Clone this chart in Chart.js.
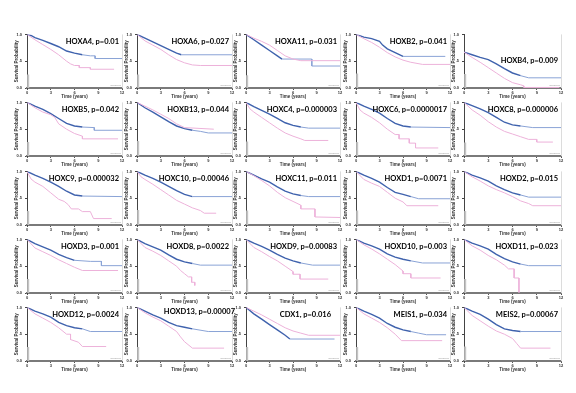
<!DOCTYPE html>
<html>
<head>
<meta charset="utf-8">
<script src="https://cdn.jsdelivr.net/npm/chart.js@4.4.1/dist/chart.umd.min.js"></script>
<style>
  html, body { margin: 0; padding: 0; background: #fff; }
  #wrap { position: relative; width: 576px; height: 393px; overflow: hidden; }
  #wrap canvas { position: absolute; }
</style>
</head>
<body>
<div id="wrap"></div>
<script>
// genes and log-rank p values, in reading order (5 x 5)
const genes = ['HOXA4', 'HOXA6', 'HOXA11', 'HOXB2', 'HOXB4',
  'HOXB5', 'HOXB13', 'HOXC4', 'HOXC6', 'HOXC8',
  'HOXC9', 'HOXC10', 'HOXC11', 'HOXD1', 'HOXD2',
  'HOXD3', 'HOXD8', 'HOXD9', 'HOXD10', 'HOXD11',
  'HOXD12', 'HOXD13', 'CDX1', 'MEIS1', 'MEIS2'];
const pValues = ['0.01', '0.027', '0.031', '0.041', '0.009',
  '0.042', '0.044', '0.000003', '0.0000017', '0.000006',
  '0.000032', '0.00046', '0.011', '0.0071', '0.015',
  '0.001', '0.0022', '0.00083', '0.003', '0.023',
  '0.0024', '0.00007', '0.016', '0.034', '0.00067'];

// blue curve (low expression group), [years, survival]
const blueCurves = [
  [[0,1],[0.5,0.98],[1,0.94],[2,0.89],[3,0.83],[4,0.77],[5,0.69],[6,0.65],[7,0.62],[8,0.6],[8.6,0.6],[8.6,0.55],[12,0.55]],
  [[0,1],[1,0.93],[2,0.86],[3,0.79],[4,0.72],[5,0.65],[5.6,0.62],[12,0.62]],
  [[0,1],[1,0.9],[2,0.8],[3,0.7],[4,0.6],[4.6,0.54],[8.4,0.54],[8.4,0.41],[12,0.41]],
  [[0,1],[1,0.95],[2,0.92],[3,0.87],[3.4,0.8],[4,0.73],[5,0.66],[6,0.59],[11.4,0.59]],
  [[0,0.67],[1,0.62],[2,0.57],[3,0.53],[4,0.45],[5,0.36],[6,0.28],[7,0.23],[8,0.19],[12,0.19]],
  [[0,1],[1,0.93],[2,0.87],[3,0.79],[4,0.7],[5,0.61],[6,0.56],[7,0.54],[8.5,0.53],[8.5,0.48],[12,0.48]],
  [[0,1],[1,0.9],[2,0.82],[3,0.73],[4,0.64],[5,0.56],[6,0.51],[7,0.48],[8,0.46],[9,0.43],[12,0.43]],
  [[0,1],[1,0.92],[2,0.85],[3,0.78],[4,0.7],[5,0.62],[6,0.57],[7,0.54],[8,0.52],[12,0.52]],
  [[0,1],[1,0.93],[2,0.87],[3,0.8],[4,0.7],[5,0.61],[6,0.56],[7,0.54],[12,0.53]],
  [[0,1],[1,0.94],[2,0.88],[3,0.81],[4,0.72],[5,0.63],[6,0.58],[7,0.56],[8.5,0.53],[12,0.53]],
  [[0,1],[1,0.93],[2,0.87],[3,0.8],[4,0.72],[5,0.63],[6,0.56],[7,0.54],[12,0.53]],
  [[0,1],[1,0.93],[2,0.87],[3,0.8],[4,0.72],[5,0.64],[6,0.57],[7,0.53],[12,0.53]],
  [[0,1],[1,0.93],[2,0.86],[3,0.8],[4,0.71],[5,0.63],[6,0.58],[7,0.55],[8,0.53],[12,0.53]],
  [[0,1],[1,0.93],[2,0.87],[3,0.8],[4,0.7],[5,0.61],[6,0.57],[7,0.53],[8,0.49],[12,0.49]],
  [[0,1],[1,0.93],[2,0.88],[3,0.82],[4,0.73],[5,0.66],[6,0.6],[7,0.56],[8,0.52],[12,0.52]],
  [[0,1],[1,0.92],[2,0.86],[3,0.8],[4,0.72],[5,0.66],[6,0.61],[8,0.59],[9.4,0.59],[9.4,0.51],[12,0.51]],
  [[0,1],[1,0.92],[2,0.86],[3,0.8],[4,0.71],[5,0.63],[6,0.58],[7,0.55],[8,0.52],[12,0.52]],
  [[0,1],[1,0.93],[2,0.87],[3,0.8],[4,0.72],[5,0.65],[6,0.6],[7,0.56],[8.5,0.52],[12,0.52]],
  [[0,1],[1,0.93],[2,0.88],[3,0.82],[4,0.73],[5,0.67],[6,0.63],[7,0.6],[8.5,0.56],[12,0.56]],
  [[0,1],[1,0.93],[2,0.88],[3,0.82],[4,0.72],[5,0.64],[6,0.58],[7,0.54],[8,0.51],[12,0.51]],
  [[0,1],[1,0.93],[2,0.88],[3,0.82],[4,0.72],[5,0.66],[6,0.62],[7,0.6],[8,0.55],[12,0.55]],
  [[0,1],[1,0.93],[2,0.86],[3,0.8],[4,0.72],[5,0.66],[6,0.63],[7,0.6],[9,0.55],[12,0.55]],
  [[0,1],[1,0.88],[2,0.78],[3,0.68],[4,0.58],[5,0.48],[5.6,0.41],[11.3,0.41]],
  [[0,1],[1,0.93],[2,0.87],[3,0.8],[4,0.7],[5,0.63],[6,0.58],[7,0.55],[8,0.52],[9,0.49],[11.5,0.49]],
  [[0,1],[1,0.93],[2,0.87],[3,0.78],[4,0.68],[5,0.6],[6,0.57],[7,0.55],[12,0.55]]
];

// pink curve (high expression group), [years, survival]
const pinkCurves = [
  [[0,1],[1,0.9],[2,0.81],[3,0.72],[4,0.62],[5,0.5],[5.5,0.45],[6,0.42],[6.6,0.42],[6.6,0.38],[8,0.38],[8,0.35],[11,0.35]],
  [[0,1],[1,0.88],[2,0.8],[3,0.72],[4,0.62],[5,0.53],[6,0.47],[7,0.43],[8,0.42],[12,0.42]],
  [[0,1],[1,0.93],[2,0.87],[3,0.8],[4,0.7],[5,0.6],[6,0.54],[7,0.51],[12,0.51]],
  [[0,1],[1,0.92],[2,0.85],[3,0.76],[4,0.66],[5,0.58],[6,0.52],[7,0.48],[8.5,0.44],[12,0.44]],
  [[0,0.67],[1,0.57],[2,0.48],[3,0.38],[4,0.28],[5,0.18],[6,0.1],[7,0.06],[7.4,0.04],[7.4,0.01],[11.8,0.01]],
  [[0,1],[1,0.9],[2,0.82],[3,0.77],[3.5,0.72],[4,0.6],[5,0.5],[6,0.42],[7,0.37],[7,0.32],[11.5,0.32]],
  [[0,1],[1,0.93],[2,0.86],[3,0.78],[4,0.7],[5,0.6],[6,0.53],[9.7,0.5]],
  [[0,1],[0.5,0.88],[1,0.82],[2,0.72],[3,0.62],[4,0.52],[5,0.43],[6,0.37],[7,0.32],[7.5,0.29],[10.5,0.29]],
  [[0,1],[0.5,0.86],[1,0.8],[2,0.72],[3,0.62],[4,0.5],[5,0.4],[5.5,0.4],[5.5,0.32],[6.8,0.32],[6.8,0.24],[7.6,0.24],[7.6,0.15],[10.5,0.15]],
  [[0,1],[1,0.86],[2,0.76],[3,0.64],[4,0.54],[5,0.46],[6,0.41],[7,0.36],[8,0.31],[9,0.31],[9,0.26],[11,0.26]],
  [[0,1],[0.5,0.86],[1,0.8],[2,0.72],[3,0.6],[4,0.48],[4.7,0.44],[5.2,0.38],[5.6,0.3],[6.5,0.3],[7,0.25],[8,0.25],[8.4,0.12],[10.7,0.12]],
  [[0,1],[0.5,0.9],[1,0.85],[2,0.76],[3,0.66],[4,0.56],[5,0.46],[6,0.39],[7,0.32],[8,0.27],[8.5,0.22],[10,0.22]],
  [[0,1],[1,0.92],[2,0.83],[3,0.73],[4,0.61],[5,0.51],[6,0.44],[7,0.37],[7,0.3],[8.8,0.3],[8.8,0.15],[12,0.14]],
  [[0,1],[1,0.85],[2,0.78],[3,0.72],[4,0.61],[5,0.5],[6,0.43],[6.5,0.36],[10.5,0.36]],
  [[0,1],[1,0.9],[2,0.82],[3,0.73],[4,0.66],[5,0.6],[6,0.53],[7,0.45],[8,0.4],[8.5,0.36],[12,0.36]],
  [[0,1],[1,0.84],[2,0.77],[3,0.7],[4,0.62],[5,0.55],[6,0.48],[7,0.42],[11.5,0.42]],
  [[0,1],[1,0.85],[2,0.78],[3,0.7],[4,0.6],[5,0.5],[5.5,0.42],[6,0.36],[6.5,0.3],[6.9,0.3],[6.9,0.2],[7.3,0.2],[7.3,0.14]],
  [[0,1],[1,0.85],[2,0.77],[3,0.68],[4,0.6],[5,0.5],[6,0.4],[6,0.35],[6.9,0.35],[6.9,0.26],[10.5,0.26]],
  [[0,1],[1,0.9],[2,0.82],[3,0.73],[4,0.63],[5,0.53],[6,0.41],[6,0.36],[7,0.36],[7,0.28],[10.8,0.28]],
  [[0,1],[1,0.88],[2,0.8],[3,0.7],[4,0.62],[5,0.52],[5.5,0.45],[6.2,0.45],[6.2,0.28],[6.8,0.28],[6.8,0.01]],
  [[0,1],[1,0.88],[2,0.8],[3,0.72],[4,0.62],[5,0.5],[5.5,0.5],[5.5,0.4],[6.5,0.35],[7,0.27],[10,0.27]],
  [[0,1],[1,0.9],[2,0.82],[3,0.75],[4,0.65],[5,0.55],[5.5,0.45],[6,0.36],[7,0.24],[11,0.24]],
  [[0,1],[1,0.93],[2,0.86],[3,0.78],[4,0.7],[5,0.62],[6,0.56],[7,0.52],[8,0.48],[12,0.48]],
  [[0,1],[1,0.88],[2,0.8],[3,0.72],[4,0.62],[5,0.5],[5.8,0.38],[11,0.38]],
  [[0,1],[1,0.85],[2,0.75],[3,0.65],[4,0.56],[5,0.5],[6,0.42],[6.5,0.33],[7,0.24],[10.7,0.24]]
];

// grey censoring bar at the origin of each panel
const censorBars = [0.25, 0.25, 0.24, 0.27, 0.26,
  0.26, 0.28, 0.27, 0.26, 0.25,
  0.26, 0.28, 0.27, 0.27, 0.26,
  0.26, 0.26, 0.26, 0.26, 0.26,
  0.26, 0.26, 0.26, 0.26, 0.27];

const xTickLabels = ['0', '3', '6', '9', '12'];
const yTickLabels = ['0.0', '.5', '1.0'];

// layout of the grid
const colAxisX = [27, 137, 246, 356, 464];
const colPlotW = [95, 95, 94, 94, 97];
const rowTop = [33, 101, 170, 238, 306];
const plotH = 55;
const titleShift = { HOXB4: [0, 19], HOXD13: [6, -3], CDX1: [-6, 0] };

const FONT = '"Liberation Sans", Arial, sans-serif';

const panelDecor = {
  id: 'panelDecor',
  afterDatasetsDraw(chart, args, opts) {
    const { ctx, chartArea: a } = chart;
    ctx.save();
    // faint right frame
    ctx.strokeStyle = '#dcdcdc';
    ctx.lineWidth = 1;
    ctx.beginPath();
    ctx.moveTo(a.right + 0.5, a.top);
    ctx.lineTo(a.right + 0.5, a.bottom);
    ctx.stroke();
    // tiny legend box text
    ctx.fillStyle = '#9a9a9a';
    ctx.font = '2.5px ' + FONT;
    ctx.textAlign = 'right';
    ctx.fillText('Censored', a.right - 1, a.bottom - 2);
    // gene title
    const sh = opts.shift || [0, 0];
    ctx.fillStyle = '#000';
    ctx.font = 'bold 7.5px Lato, ' + FONT;
    ctx.textBaseline = 'middle';
    ctx.fillText(opts.label, a.right - 3 + sh[0], a.top + 7 + sh[1]);
    ctx.restore();
  }
};

const wrap = document.getElementById('wrap');

genes.forEach(function (gene, i) {
  const r = Math.floor(i / 5), c = i % 5;
  const cv = document.createElement('canvas');
  const w = 27 + colPlotW[c] + 8, h = 4 + plotH + 11;
  cv.width = w; cv.height = h;
  cv.style.left = (colAxisX[c] - 27) + 'px';
  cv.style.top = (rowTop[r] - 4) + 'px';
  cv.style.width = w + 'px'; cv.style.height = h + 'px';
  wrap.appendChild(cv);

  new Chart(cv, {
    type: 'line',
    data: {
      datasets: [{
        data: pinkCurves[i].map(p => ({ x: p[0], y: p[1] })),
        borderColor: '#edb2da',
        borderWidth: 1,
        pointRadius: 0
      }, {
        data: blueCurves[i].map(p => ({ x: p[0], y: p[1] })),
        borderColor: '#3f62ad',
        borderWidth: 1.3,
        pointRadius: 0,
        segment: {
          borderColor: s => s.p1.parsed.x > 7 ? '#8aa3d6' : '#3f62ad',
          borderWidth: s => s.p1.parsed.x > 7 ? 1 : 1.4
        }
      }, {
        data: [{ x: 0.15, y: 0 }, { x: 0.15, y: censorBars[i] }],
        borderColor: '#c4c4c4',
        borderWidth: 2,
        pointRadius: 0
      }]
    },
    options: {
      responsive: false,
      animation: false,
      devicePixelRatio: 1,
      layout: { padding: { top: 4, right: 8, left: 0, bottom: 0 } },
      plugins: {
        legend: { display: false },
        tooltip: { enabled: false },
        panelDecor: { label: gene + ', p=' + pValues[i], shift: titleShift[gene] }
      },
      scales: {
        x: {
          type: 'linear', min: 0, max: 12,
          afterFit: s => { s.height = 11; },
          ticks: {
            stepSize: 3, autoSkip: false, maxRotation: 0, padding: 0,
            color: '#333', font: { size: 4, family: FONT, weight: 'bold' },
            callback: v => xTickLabels[v / 3]
          },
          grid: { drawOnChartArea: false, drawTicks: true, tickLength: 2, color: '#555' },
          border: { color: '#7a7a7a', width: 2 },
          title: {
            display: true, text: 'Time (years)', color: '#333', padding: 0,
            font: { size: 4.5, family: FONT, weight: 'bold' }
          }
        },
        y: {
          min: 0, max: 1,
          afterFit: s => { s.width = 27; },
          ticks: {
            stepSize: 0.5, padding: 3, color: '#333',
            font: { size: 4, family: FONT, weight: 'bold' },
            callback: v => yTickLabels[Math.round(v * 2)]
          },
          grid: { drawOnChartArea: false, drawTicks: true, tickLength: 2, color: '#444' },
          border: { color: '#444', width: 1 },
          title: {
            display: true, text: 'Survival Probability', color: '#333',
            padding: { top: 14, bottom: 0 },
            font: { size: 4.5, family: FONT, weight: 'bold' }
          }
        }
      }
    },
    plugins: [panelDecor]
  });
});
</script>
</body>
</html>
